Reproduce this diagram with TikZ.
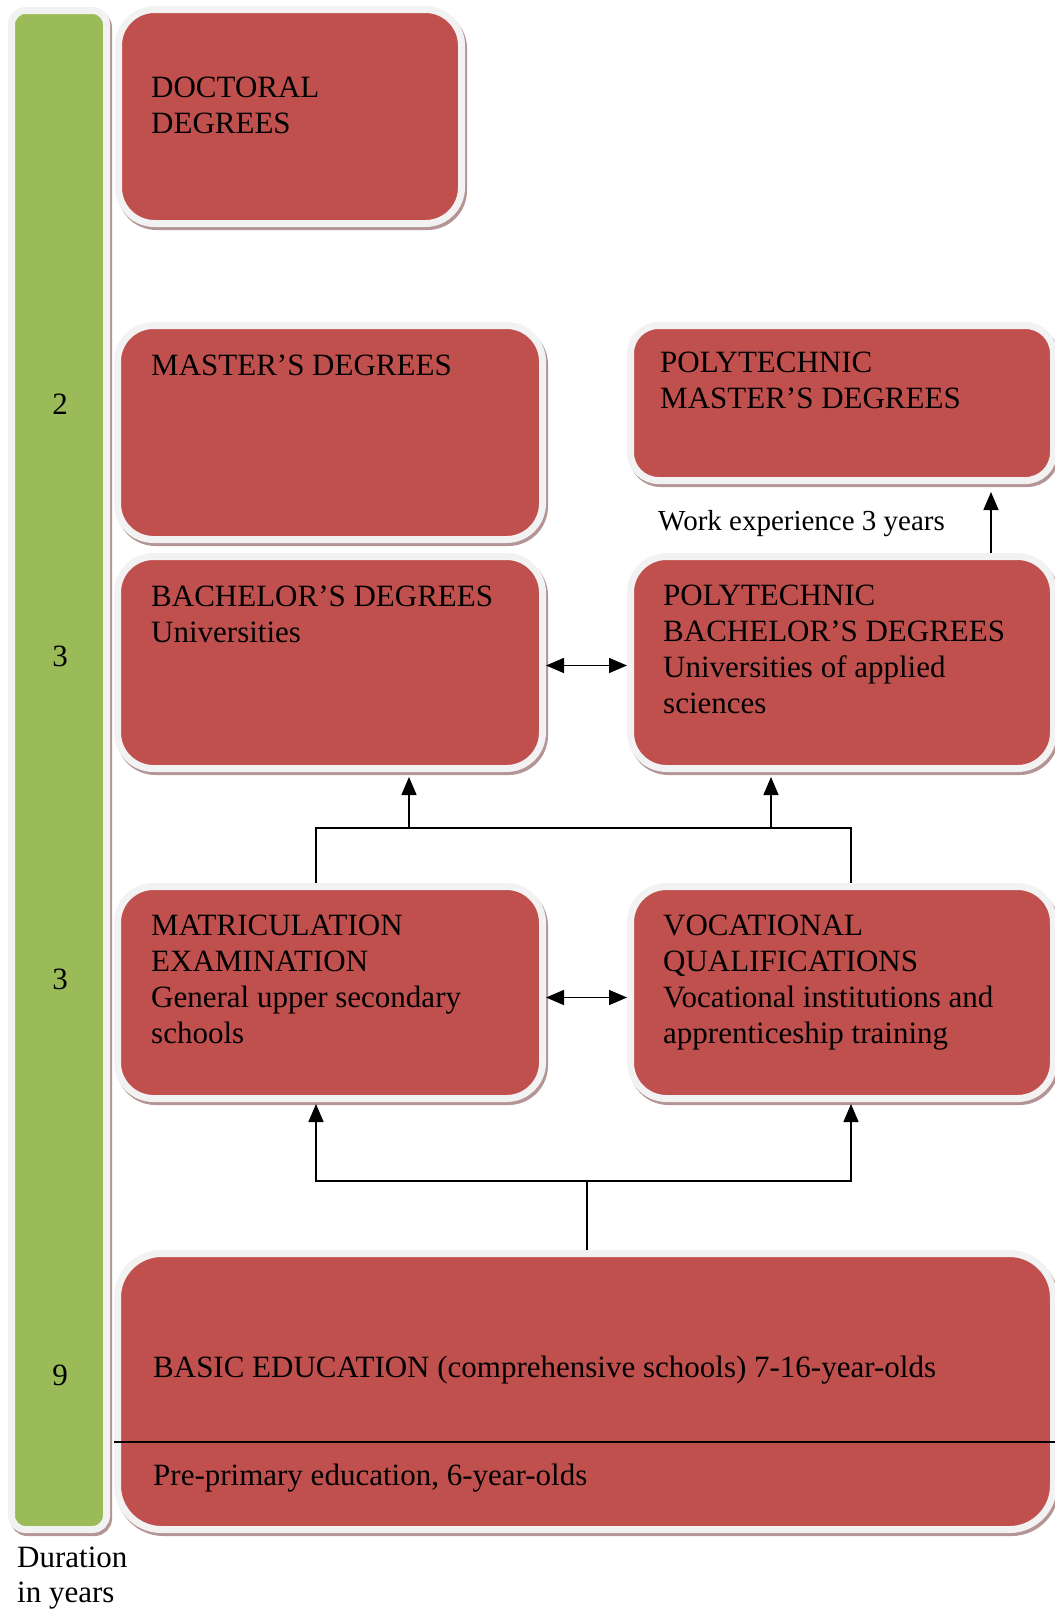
\documentclass[tikz,border=0pt]{standalone}
\usepackage{fontspec}
\setmainfont{Liberation Serif}
\usetikzlibrary{arrows.meta,shadows}
\definecolor{boxred}{HTML}{C0504D}
\definecolor{bargreen}{HTML}{9BBB59}
\definecolor{rim}{HTML}{F2F2F2}
\definecolor{shadowc}{HTML}{B49494}
\begin{document}
\begin{tikzpicture}[x=1pt,y=-1pt,
	box/.style={draw=rim,line width=7pt,fill=boxred,rounded corners=36pt,
		drop shadow={shadow xshift=2pt,shadow yshift=-3pt,opacity=1,fill=shadowc,draw=shadowc,line width=7pt}},
	txt/.style={anchor=base west,inner sep=0pt,align=left,font=\fontsize{31}{36}\selectfont},
	num/.style={anchor=base,inner sep=0pt,font=\fontsize{31}{36}\selectfont},
	arr/.style={-{Triangle[length=18pt,width=15pt]},line width=1.5pt},
	dbl/.style={{Triangle[length=18pt,width=15pt]}-{Triangle[length=18pt,width=15pt]},line width=1.5pt}]
	\useasboundingbox (0,0) rectangle (1055,1610);
	% duration bar
	\node[box,fill=bargreen,rounded corners=14pt,minimum width=95pt,minimum height=1519pt] (bar) at (59,770) {};
	\node[num] (n2) at (60,414) {2};
	\node[num] (n3a) at (60,666) {3};
	\node[num] (n3b) at (60,989) {3};
	\node[num] (n9) at (60,1385) {9};
	\node[txt,font=\fontsize{31}{35}\selectfont] (dur) at (17,1602) {Duration\\in years};
	% boxes
	\node[box,minimum width=343pt,minimum height=214pt] (doc) at (290,116.5) {};
	\node[box,minimum width=425pt,minimum height=214pt] (mast) at (330,432.5) {};
	\node[box,rounded corners=28pt,minimum width=423pt,minimum height=155pt] (pmast) at (842,403) {};
	\node[box,minimum width=425pt,minimum height=212pt] (bach) at (330,662.5) {};
	\node[box,minimum width=423pt,minimum height=212pt] (pbach) at (842,662.5) {};
	\node[box,minimum width=425pt,minimum height=212pt] (matric) at (330,992.5) {};
	\node[box,minimum width=423pt,minimum height=212pt] (voc) at (842,992.5) {};
	\node[box,rounded corners=44pt,minimum width=936pt,minimum height=276pt] (basic) at (585.5,1391.5) {};
	% texts (anchored on the baseline of the last line)
	\node[txt] (doctxt) at (151,133) {DOCTORAL\\DEGREES};
	\node[txt] (masttxt) at (151,375) {MASTER’S DEGREES};
	\node[txt] (pmasttxt) at (660,408) {POLYTECHNIC\\MASTER’S DEGREES};
	\node[txt,font=\fontsize{29}{36}\selectfont] (wexp) at (658,530) {Work experience 3 years};
	\node[txt] (bachtxt) at (151,642) {BACHELOR’S DEGREES\\Universities};
	\node[txt] (pbachtxt) at (663,713) {POLYTECHNIC\\BACHELOR’S DEGREES\\Universities of applied\\sciences};
	\node[txt] (matrictxt) at (151,1043) {MATRICULATION\\EXAMINATION\\General upper secondary\\schools};
	\node[txt] (voctxt) at (663,1043) {VOCATIONAL\\QUALIFICATIONS\\Vocational institutions and\\apprenticeship training};
	\node[txt] (basictxt) at (153,1377) {BASIC EDUCATION (comprehensive schools) 7-16-year-olds};
	\node[txt] (pretxt) at (153,1485) {Pre-primary education, 6-year-olds};
	\coordinate (dv) at (0,1442);
	\draw[line width=1.3pt] (basic.west |- dv) -- (basic.east |- dv);
	% connectors
	\coordinate (wx) at (991,0);
	\draw[arr,shorten >=8pt] (pbach.north -| wx) -- (pmast.south -| wx);
	\draw[dbl] ([yshift=-3pt]bach.east) -- ([yshift=-3pt]pbach.west);
	\draw[dbl] ([yshift=-5pt]matric.east) -- ([yshift=-5pt]voc.west);
	\coordinate (ul) at (316,828);
	\coordinate (ur) at (851,828);
	\coordinate (ua) at (409,828);
	\coordinate (ub) at (771,828);
	\draw[line width=1.5pt] (matric.north -| ul) -- (ul) -- (ur) -- (voc.north -| ur);
	\draw[arr,shorten >=5pt] (ua) -- (bach.south -| ua);
	\draw[arr,shorten >=5pt] (ub) -- (pbach.south -| ub);
	\coordinate (lm) at (587,1181);
	\coordinate (ll) at (316,1181);
	\coordinate (lr) at (851,1181);
	\draw[line width=1.5pt] (basic.north -| lm) -- (lm);
	\draw[arr,shorten >=2pt] (lm) -- (ll) -- (matric.south -| ll);
	\draw[arr,shorten >=2pt] (lm) -- (lr) -- (voc.south -| lr);
\end{tikzpicture}
\end{document}
